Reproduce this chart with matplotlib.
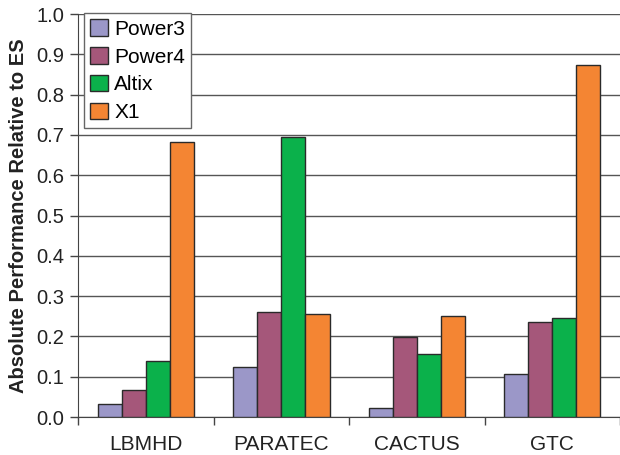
import numpy as np
import matplotlib
matplotlib.use('Agg')
import matplotlib.pyplot as plt

plt.rcParams['font.family'] = ['Liberation Sans', 'DejaVu Sans']

# Data
codes = ['LBMHD', 'PARATEC', 'CACTUS', 'GTC']
systems = ['Power3', 'Power4', 'Altix', 'X1']
power3 = [0.032, 0.124, 0.022, 0.107]
power4 = [0.067, 0.260, 0.199, 0.236]
altix = [0.139, 0.695, 0.156, 0.246]
x1 = [0.682, 0.255, 0.250, 0.873]
colors = ['#9b97c8', '#a5577a', '#0bb14b', '#f48533']

fig = plt.figure(figsize=(6.2, 4.55), dpi=100)
ax = fig.add_axes([0.126, 0.0835, 0.874, 0.8855])

x = np.arange(len(codes))
width = 0.178
series = [power3, power4, altix, x1]
for i, (vals, name) in enumerate(zip(series, systems)):
    ax.bar(x + (i - 1.5) * width, vals, width, color=colors[i],
           edgecolor='#2a2a2a', linewidth=1.0, label=name, zorder=3)

ax.set_ylim(0, 1.0)
ax.set_xlim(-0.5, 3.5)
ax.set_yticks(np.arange(0, 1.01, 0.1))
ax.set_yticklabels(['%.1f' % v for v in np.arange(0, 1.01, 0.1)], fontsize=14.5, color='#222222')
ax.yaxis.grid(True, color='#555555', linewidth=1.0, zorder=0)

ax.set_xticks(x)
ax.set_xticklabels(codes, fontsize=15, color='#222222')
ax.set_xticks(np.arange(-0.5, 3.6, 1.0), minor=True)
ax.tick_params(axis='x', which='major', length=0, pad=13)
ax.tick_params(axis='x', which='minor', length=6, width=1.0, color='#444444')
ax.tick_params(axis='y', length=6, width=1.0, color='#444444', pad=4)

for s in ['top', 'right']:
    ax.spines[s].set_visible(False)
ax.spines['left'].set_color('#444444')
ax.spines['bottom'].set_color('#444444')

ax.set_ylabel('Absolute Performance Relative to ES', fontsize=14.5,
              fontweight='bold', color='#222222', labelpad=6)

leg = ax.legend(loc='upper left', bbox_to_anchor=(0.011, 1.003), fontsize=15,
                fancybox=False, edgecolor='#666666', framealpha=1.0, borderaxespad=0,
                handlelength=0.85, handleheight=0.85, handletextpad=0.3,
                labelspacing=0.4, borderpad=0.3)
leg.get_frame().set_linewidth(1.0)

fig.savefig('out.png', dpi=100)
